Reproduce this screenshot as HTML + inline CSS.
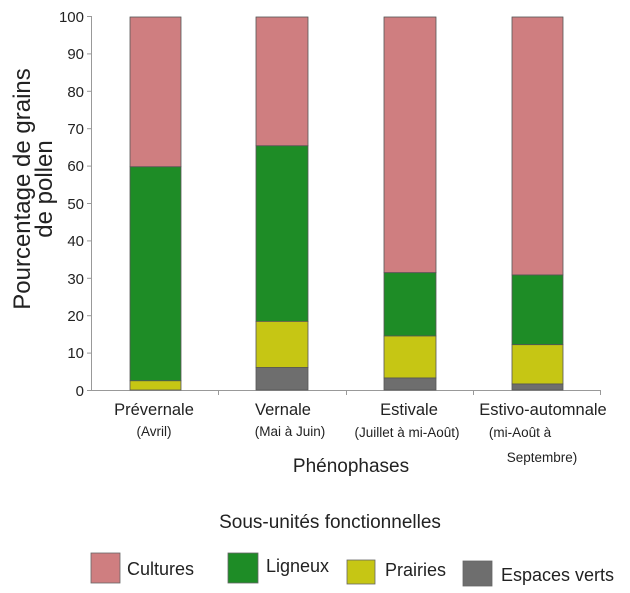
<!DOCTYPE html>
<html><head><meta charset="utf-8"><style>
body{margin:0;background:#fff;}
svg text{font-family:"Liberation Sans",sans-serif;fill:#222;}
</style></head><body>
<svg width="630" height="588" viewBox="0 0 630 588" xmlns="http://www.w3.org/2000/svg">
<g stroke="#999" stroke-width="1" fill="none">
<line x1="91.5" y1="16" x2="91.5" y2="391"/>
<line x1="91" y1="390.5" x2="601" y2="390.5"/>
<line x1="87" y1="16.5" x2="91" y2="16.5"/><line x1="87" y1="53.9" x2="91" y2="53.9"/>
<line x1="87" y1="91.3" x2="91" y2="91.3"/><line x1="87" y1="128.7" x2="91" y2="128.7"/>
<line x1="87" y1="166.1" x2="91" y2="166.1"/><line x1="87" y1="203.5" x2="91" y2="203.5"/>
<line x1="87" y1="240.9" x2="91" y2="240.9"/><line x1="87" y1="278.3" x2="91" y2="278.3"/>
<line x1="87" y1="315.7" x2="91" y2="315.7"/><line x1="87" y1="353.1" x2="91" y2="353.1"/>
<line x1="87" y1="390.5" x2="91" y2="390.5"/>
<line x1="218.5" y1="390" x2="218.5" y2="395"/><line x1="346.5" y1="390" x2="346.5" y2="395"/>
<line x1="473.5" y1="390" x2="473.5" y2="395"/><line x1="600.5" y1="390" x2="600.5" y2="395"/>
</g>
<g font-size="15" text-anchor="end">
<text x="84" y="22">100</text><text x="84" y="59">90</text><text x="84" y="97">80</text>
<text x="84" y="134">70</text><text x="84" y="171">60</text><text x="84" y="209">50</text>
<text x="84" y="246">40</text><text x="84" y="284">30</text><text x="84" y="321">20</text>
<text x="84" y="358">10</text><text x="84" y="396">0</text>
</g>
<g stroke="#555" stroke-width="0.8">
<rect x="130" y="17" width="51" height="149.8" fill="#cf7e80"/>
<rect x="130" y="166.8" width="51" height="214" fill="#1e8c26"/>
<rect x="130" y="380.8" width="51" height="9.2" fill="#c6c614"/>
<rect x="256" y="17" width="52" height="128.8" fill="#cf7e80"/>
<rect x="256" y="145.8" width="52" height="175.6" fill="#1e8c26"/>
<rect x="256" y="321.4" width="52" height="46.2" fill="#c6c614"/>
<rect x="256" y="367.6" width="52" height="22.4" fill="#6e6e6e"/>
<rect x="384" y="17" width="52" height="255.7" fill="#cf7e80"/>
<rect x="384" y="272.7" width="52" height="63.3" fill="#1e8c26"/>
<rect x="384" y="336" width="52" height="42" fill="#c6c614"/>
<rect x="384" y="378" width="52" height="12" fill="#6e6e6e"/>
<rect x="512" y="17" width="51" height="258" fill="#cf7e80"/>
<rect x="512" y="275" width="51" height="69.7" fill="#1e8c26"/>
<rect x="512" y="344.7" width="51" height="39.3" fill="#c6c614"/>
<rect x="512" y="384" width="51" height="6" fill="#6e6e6e"/>
</g>
<g font-size="16.5" text-anchor="middle">
<text x="154" y="415">Prévernale</text>
<text x="283" y="415">Vernale</text>
<text x="409" y="415">Estivale</text>
<text x="543" y="415">Estivo-automnale</text>
</g>
<g font-size="13.5" text-anchor="middle">
<text x="154" y="436">(Avril)</text>
<text x="290" y="436">(Mai à Juin)</text>
<text x="407" y="437">(Juillet à mi-Août)</text>
<text x="520" y="437">(mi-Août à</text>
<text x="542" y="462">Septembre)</text>
</g>
<text x="351" y="472" font-size="19" text-anchor="middle">Phénophases</text>
<text transform="translate(30,189) rotate(-90)" font-size="24" text-anchor="middle">Pourcentage de grains</text>
<text transform="translate(52,189) rotate(-90)" font-size="24" text-anchor="middle">de pollen</text>
<text x="330" y="528" font-size="19" text-anchor="middle">Sous-unités fonctionnelles</text>
<g stroke="#666" stroke-width="0.8">
<rect x="91" y="553" width="29" height="30" fill="#cf7e80"/>
<rect x="228" y="553" width="30" height="30" fill="#1e8c26"/>
<rect x="347" y="560" width="28" height="24" fill="#c6c614"/>
<rect x="463" y="561" width="29" height="25" fill="#6e6e6e"/>
</g>
<g font-size="18">
<text x="127" y="575">Cultures</text>
<text x="266" y="572">Ligneux</text>
<text x="385" y="576">Prairies</text>
<text x="501" y="581">Espaces verts</text>
</g>
</svg>
</body></html>
